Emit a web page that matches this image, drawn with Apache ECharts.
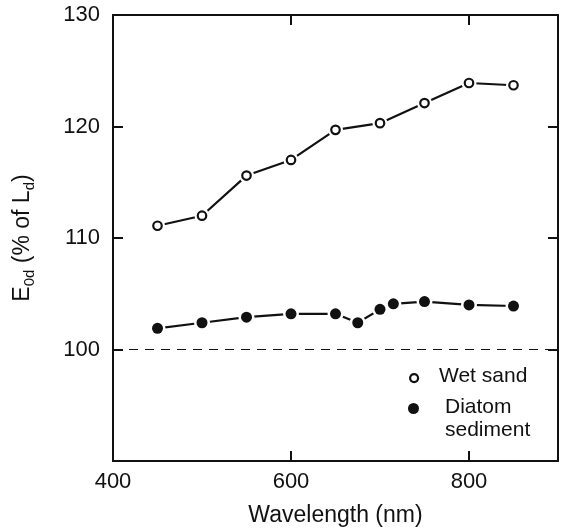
<!DOCTYPE html>
<html>
<head>
<meta charset="utf-8">
<script src="https://cdn.jsdelivr.net/npm/echarts@6/dist/echarts.min.js"></script>
<style>
  html, body { margin: 0; padding: 0; background: #fff; }
  #chart { width: 565px; height: 532px; }
</style>
</head>
<body>
<div id="chart"></div>
<script>
/* ── Dados ─────────────────────────────────────────────────────────────── */
var wetWl   = [450, 500, 550, 600, 650, 700, 750, 800, 850]
var wetVal  = [111.1, 112.0, 115.6, 117.0, 119.7, 120.3, 122.1, 123.9, 123.7]
var diaWl   = [450, 500, 550, 600, 650, 675, 700, 715, 750, 800, 850]
var diaVal  = [101.9, 102.4, 102.9, 103.2, 103.2, 102.4, 103.6, 104.1, 104.3, 104.0, 103.9]
var refLine = 100
var seriesNames = ['Wet sand', 'Diatom\nsediment']

var FONT = 'Liberation Sans, Arial, Helvetica, sans-serif'
var INK = '#111'

function pairs(xs, ys) {
  return xs.map(function(x, i) { return [x, ys[i]] })
}

var wetData = pairs(wetWl, wetVal)
var diaData = pairs(diaWl, diaVal)

var myChart = echarts.init(document.getElementById('chart'), null, { renderer: 'canvas' })

function xAx(pos, showLabel) {
  return {
    type: 'value', position: pos, min: 400, max: 900, interval: 200,
    axisLine: { show: true, onZero: false, lineStyle: { color: INK, width: 2 } },
    axisTick: { show: true, inside: true, length: 10, lineStyle: { color: INK, width: 2 } },
    axisLabel: { show: showLabel, margin: 10, fontSize: 22, color: INK, fontFamily: FONT,
      showMaxLabel: false },
    splitLine: { show: false },
    name: showLabel ? 'Wavelength (nm)' : '',
    nameLocation: 'middle', nameGap: 43,
    nameTextStyle: { fontSize: 23, color: INK, fontFamily: FONT }
  }
}

function yAx(pos, showLabel) {
  return {
    type: 'value', position: pos, min: 90, max: 130, interval: 10,
    axisLine: { show: true, onZero: false, lineStyle: { color: INK, width: 2 } },
    axisTick: { show: true, inside: true, length: 10, lineStyle: { color: INK, width: 2 } },
    axisLabel: { show: showLabel, margin: 13, fontSize: 22, color: INK, fontFamily: FONT,
      formatter: function(v) { return v === 90 ? '' : String(v) } },
    splitLine: { show: false },
    name: showLabel ? '{t|E}{s|0d}{t| (% of L}{s|d}{t|)}' : '',
    nameLocation: 'middle', nameGap: 76, nameRotate: 90,
    nameTextStyle: {
      color: INK, fontFamily: FONT,
      rich: {
        t: { fontSize: 23, color: INK, fontFamily: FONT, lineHeight: 28 },
        s: { fontSize: 15, color: INK, fontFamily: FONT, lineHeight: 28, verticalAlign: 'bottom' }
      }
    }
  }
}

myChart.setOption({
  backgroundColor: '#fff',
  animation: false,
  grid: { left: 113, right: 7, top: 15, bottom: 71, containLabel: false },
  xAxis: [xAx('bottom', true), xAx('top', false)],
  yAxis: [yAx('left', true), yAx('right', false)],
  series: [
    /* linhas */
    { type: 'line', name: seriesNames[0], data: wetData, showSymbol: false, z: 2,
      lineStyle: { color: INK, width: 2.2 } },
    { type: 'line', name: seriesNames[1], data: diaData, showSymbol: false, z: 2,
      lineStyle: { color: INK, width: 2.2 },
      markLine: {
        silent: true, symbol: 'none', label: { show: false },
        lineStyle: { color: INK, width: 1, type: [9, 7] },
        data: [{ yAxis: refLine }]
      } },
    /* halo branco que afasta a linha dos marcadores */
    { type: 'scatter', data: wetData, symbolSize: 15, z: 3, silent: true,
      itemStyle: { color: '#fff', opacity: 1 } },
    { type: 'scatter', data: diaData, symbolSize: 16, z: 3, silent: true,
      itemStyle: { color: '#fff', opacity: 1 } },
    /* marcadores */
    { type: 'scatter', data: wetData, symbol: 'circle', symbolSize: 8.5, z: 4,
      itemStyle: { color: '#fff', borderColor: INK, borderWidth: 2.2, opacity: 1 } },
    { type: 'scatter', data: diaData, symbol: 'circle', symbolSize: 11, z: 4,
      itemStyle: { color: INK, opacity: 1 } }
  ],
  graphic: [
    { type: 'circle', left: 409, top: 373, shape: { r: 4 },
      style: { fill: '#fff', stroke: INK, lineWidth: 2.2 } },
    { type: 'text', left: 439, top: 366,
      style: { text: seriesNames[0], font: '21px ' + FONT, fill: INK } },
    { type: 'circle', left: 408, top: 403, shape: { r: 5.5 },
      style: { fill: INK } },
    { type: 'text', left: 445, top: 396,
      style: { text: seriesNames[1], font: '21px ' + FONT, fill: INK, lineHeight: 23 } }
  ]
})

window.addEventListener('resize', function() { myChart.resize() })
</script>
</body>
</html>
